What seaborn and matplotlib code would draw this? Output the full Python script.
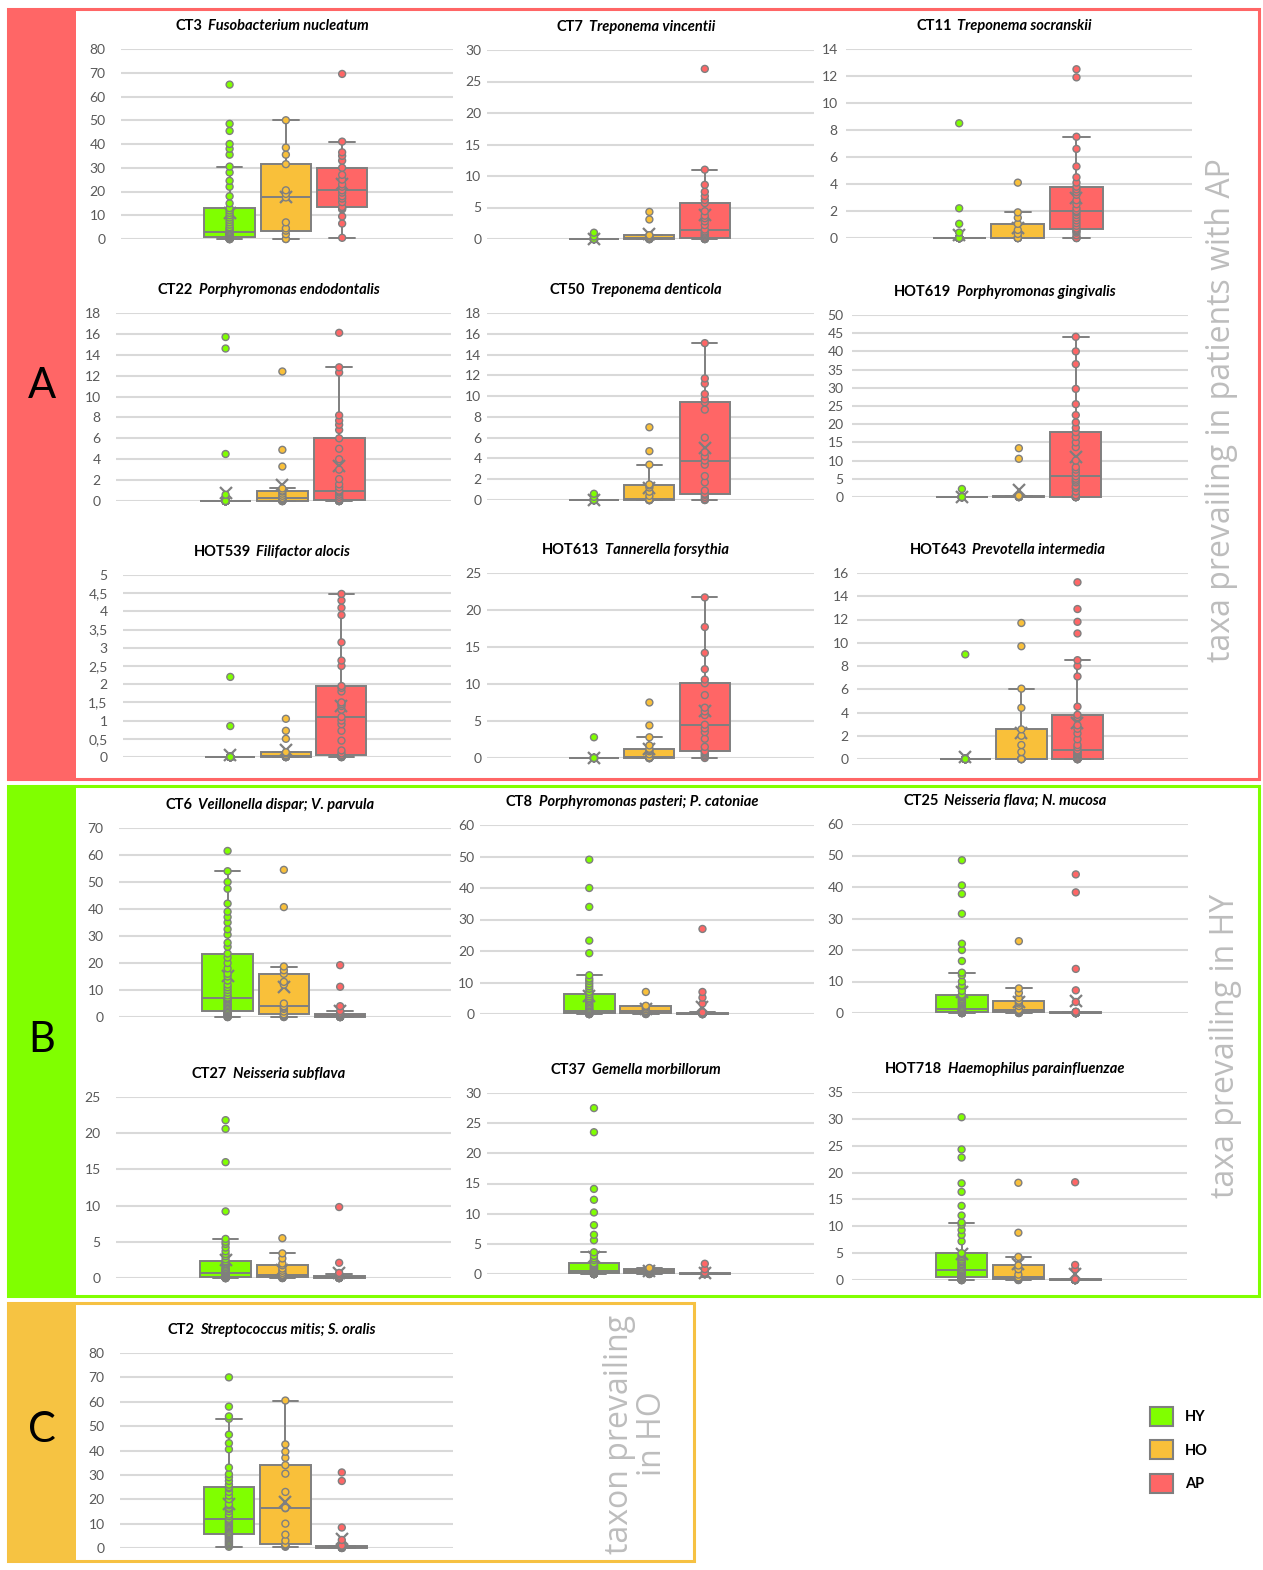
import numpy as np
import pandas as pd
import matplotlib
matplotlib.use('Agg')
import matplotlib.pyplot as plt
import matplotlib.patches as mpatches
from matplotlib.ticker import MultipleLocator, FuncFormatter
from matplotlib.offsetbox import TextArea, HPacker, AnchoredOffsetbox
import seaborn as sns

## groups and colours
groups = ['HY', 'HO', 'AP']
group_colors = ['#80FF00', '#F9C03A', '#FF6666']

## values (HY / HO / AP)
# A: taxa prevailing in patients with AP
ct3_hy = [0, 0, 0, 0, 0, 0, 0.1, 0.2, 0.3, 0.4, 0.5, 0.6, 0.7, 0.8, 1, 1.2, 1.4, 1.6, 1.8, 2, 2.2, 2.4, 2.6, 2.8,
          3, 3.5, 4, 4.5, 5, 6, 7, 8, 9, 10, 11, 12, 13, 15, 18, 22, 24.5, 28, 30.5, 35.5, 38, 40, 45.5, 48.5, 65]
ct3_ho = [0, 0, 2, 3.5, 4.5, 7, 17.5, 19, 20.5, 31.5, 35.5, 38.5, 50]
ct3_ap = [0.5, 6.5, 9.5, 12.5, 13, 13.5, 15.5, 17, 18, 19.5, 20.5, 22, 23, 25, 27, 30, 33, 35, 36.5, 41, 69.5]

ct7_hy = [0, 0, 0, 0, 0, 0, 0, 0, 0, 0, 0, 0, 0, 0, 0, 0, 0, 0, 0, 0, 0, 0, 0, 0,
          0, 0, 0, 0, 0, 0, 0, 0, 0, 0, 0, 0, 0, 0, 0, 0, 0, 0, 0, 0, 0, 0, 0, 0.4, 1.0]
ct7_ho = [0, 0, 0, 0, 0, 0, 0.1, 0.2, 0.4, 0.6, 0.6, 3.1, 4.3]
ct7_ap = [0, 0, 0, 0, 0.1, 0.15, 0.2, 0.4, 0.6, 0.8, 1.0, 1.2, 1.5, 2.2, 2.8, 3.3, 3.7, 4.4, 5.7, 6.2, 6.8, 7.5,
          8.6, 11, 27]

ct11_hy = [0, 0, 0, 0, 0, 0, 0, 0, 0, 0, 0, 0, 0, 0, 0, 0, 0, 0, 0, 0, 0, 0, 0, 0,
           0, 0, 0, 0, 0, 0, 0, 0, 0, 0, 0, 0, 0, 0, 0, 0, 0, 0, 0, 0, 0, 0.4, 1.05, 2.2, 8.5]
ct11_ho = [0, 0, 0, 0, 0, 0, 0, 0.3, 0.6, 1.05, 1.5, 1.9, 4.1]
ct11_ap = [0, 0, 0, 0.2, 0.4, 0.5, 0.6, 0.7, 0.9, 1.1, 1.3, 1.5, 1.7, 1.9, 2.0, 2.2, 2.5, 2.8, 3.2, 3.4, 3.6,
           3.8, 4.1, 4.5, 5.3, 6.6, 7.5, 11.9, 12.5]

ct22_hy = [0, 0, 0, 0, 0, 0, 0, 0, 0, 0, 0, 0, 0, 0, 0, 0, 0, 0, 0, 0, 0, 0, 0, 0,
           0, 0, 0, 0, 0, 0, 0, 0, 0, 0, 0, 0, 0, 0, 0, 0, 0, 0, 0, 0, 0, 0.6, 4.5, 14.6, 15.7]
ct22_ho = [0, 0, 0, 0, 0, 0.1, 0.2, 0.25, 0.3, 0.5, 0.7, 0.9, 1.0, 1.2, 3.3, 4.9, 12.4]
ct22_ap = [0, 0, 0, 0, 0, 0, 0.05, 0.1, 0.15, 0.2, 0.4, 0.6, 0.8, 0.9, 1.0, 1.3, 1.6, 2.1, 3.0, 4.0, 5.0, 6.0,
           6.8, 7.3, 7.7, 8.2, 12.3, 12.8, 16.1]

ct50_hy = [0, 0, 0, 0, 0, 0, 0, 0, 0, 0, 0, 0, 0, 0, 0, 0, 0, 0, 0, 0, 0, 0, 0, 0,
           0, 0, 0, 0, 0, 0, 0, 0, 0, 0, 0, 0, 0, 0, 0, 0, 0, 0, 0, 0, 0, 0, 0, 0.3, 0.6]
ct50_ho = [0, 0, 0, 0, 0, 0, 0, 0, 0.05, 0.4, 0.8, 1.2, 1.4, 1.5, 3.4, 4.7, 7.0]
ct50_ap = [0, 0, 0.1, 0.3, 0.5, 0.6, 0.9, 1.7, 2.3, 3.4, 3.8, 4.2, 4.6, 6.0, 8.7, 9.4, 9.7, 10.2, 11.2, 11.7, 15.1]

hot619_hy = [0, 0, 0, 0, 0, 0, 0, 0, 0, 0, 0, 0, 0, 0, 0, 0, 0, 0, 0, 0, 0, 0, 0, 0,
             0, 0, 0, 0, 0, 0, 0, 0, 0, 0, 0, 0, 0, 0, 0, 0, 0, 0, 0, 0, 0, 0, 0, 0, 2.2]
hot619_ho = [0, 0, 0, 0, 0, 0, 0.1, 0.15, 0.2, 0.3, 0.3, 10.5, 13.4]
hot619_ap = [0, 0, 0, 0, 0, 0, 0, 0, 0, 0.5, 1.5, 2.5, 3.0, 4.0, 4.5, 5.0, 5.7, 6.6, 7.5, 8.2, 10, 13.7, 15,
             16.5, 17.8, 19, 20.5, 22.5, 25.5, 29.7, 36.5, 40, 44]

hot539_hy = [0, 0, 0, 0, 0, 0, 0, 0, 0, 0, 0, 0, 0, 0, 0, 0, 0, 0, 0, 0, 0, 0, 0, 0,
             0, 0, 0, 0, 0, 0, 0, 0, 0, 0, 0, 0, 0, 0, 0, 0, 0, 0, 0, 0, 0, 0, 0, 0.85, 2.2]
hot539_ho = [0, 0, 0, 0, 0, 0, 0.02, 0.05, 0.1, 0.13, 0.5, 0.72, 1.05]
hot539_ap = [0, 0, 0, 0, 0, 0.02, 0.04, 0.05, 0.1, 0.18, 0.45, 0.72, 0.9, 1.0, 1.1, 1.3, 1.4, 1.45, 1.5, 1.8,
             1.9, 1.95, 2.5, 2.65, 3.15, 3.9, 4.1, 4.3, 4.48]

hot613_hy = [0, 0, 0, 0, 0, 0, 0, 0, 0, 0, 0, 0, 0, 0, 0, 0, 0, 0, 0, 0, 0, 0, 0, 0,
             0, 0, 0, 0, 0, 0, 0, 0, 0, 0, 0, 0, 0, 0, 0, 0, 0, 0, 0, 0, 0, 0, 0, 0, 2.8]
hot613_ho = [0, 0, 0, 0, 0, 0, 0, 0.05, 0.1, 0.5, 0.9, 1.1, 1.25, 1.7, 2.8, 4.4, 7.5]
hot613_ap = [0, 0.2, 0.4, 0.6, 0.8, 0.9, 1.5, 2.6, 3.5, 4.0, 4.5, 5.8, 6.3, 6.8, 8.5, 10.1, 10.6, 12, 14.2, 17.7,
             21.7]

hot643_hy = [0, 0, 0, 0, 0, 0, 0, 0, 0, 0, 0, 0, 0, 0, 0, 0, 0, 0, 0, 0, 0, 0, 0, 0,
             0, 0, 0, 0, 0, 0, 0, 0, 0, 0, 0, 0, 0, 0, 0, 0, 0, 0, 0, 0, 0, 0, 0, 0, 9.0]
hot643_ho = [0, 0, 0, 0, 0, 0, 0, 0, 0, 0.6, 1.2, 2.0, 2.55, 4.4, 6.05, 9.7, 11.7]
hot643_ap = [0, 0, 0, 0, 0, 0, 0, 0, 0, 0.1, 0.2, 0.3, 0.4, 0.5, 0.6, 0.7, 0.75, 1.0, 1.2, 1.7, 2.2, 2.6, 2.9,
             3.6, 3.8, 4.5, 7.1, 8.0, 8.5, 10.8, 11.8, 12.9, 15.2]

# B: taxa prevailing in HY
ct6_hy = [0, 0, 0, 0.3, 0.5, 0.8, 1.0, 1.2, 1.5, 1.7, 1.9, 2.0, 2.2, 2.5, 3, 3.5, 4, 4.5, 5, 5.5, 6, 6.5, 6.8,
          7.0, 7.2, 8, 9, 10, 11, 12, 13.5, 15, 16, 18, 20, 22, 23.5, 26, 27.5, 30.5, 32.5, 35, 37, 39, 42, 47.5,
          50, 54, 61.5]
ct6_ho = [0, 0, 0.3, 0.6, 1.0, 2.0, 3.0, 3.5, 4.0, 5.0, 12, 13, 16, 17.3, 18.7, 40.7, 54.5]
ct6_ap = [0, 0, 0, 0, 0, 0, 0.1, 0.2, 0.3, 0.4, 0.5, 0.6, 0.8, 1.0, 1.1, 1.2, 1.6, 2.2, 4.0, 11.2, 19.2]

ct8_hy = [0, 0, 0, 0, 0, 0, 0.05, 0.1, 0.15, 0.2, 0.25, 0.28, 0.3, 0.35, 0.4, 0.45, 0.5, 0.6, 0.65, 0.7, 0.75,
          0.8, 0.9, 0.95, 1.0, 1.3, 1.6, 2.0, 2.4, 2.8, 3.3, 3.8, 4.2, 4.6, 5.0, 5.6, 6.3, 7.0, 8.0, 8.8, 9.6,
          10.5, 11.2, 12.3, 19.3, 23.3, 34, 40, 49]
ct8_ho = [0, 0, 0.1, 0.3, 0.5, 0.8, 1.0, 1.5, 2.0, 2.4, 2.5, 2.6, 7.0]
ct8_ap = [0, 0, 0, 0, 0, 0, 0, 0, 0.05, 0.1, 0.1, 0.15, 0.2, 0.25, 0.28, 0.3, 0.5, 3.3, 5.2, 7.0, 27]

ct25_hy = [0, 0, 0, 0, 0, 0, 0.05, 0.1, 0.15, 0.2, 0.25, 0.28, 0.3, 0.35, 0.4, 0.5, 0.6, 0.7, 0.8, 0.9, 1.0,
           1.1, 1.2, 1.25, 1.3, 1.6, 2.0, 2.4, 2.8, 3.1, 3.4, 3.8, 4.2, 4.5, 5.0, 5.4, 5.8, 7.0, 8.7, 10, 12, 12.8,
           16.5, 20, 22, 31.5, 37.8, 40.5, 48.5]
ct25_ho = [0, 0, 0.1, 0.2, 0.3, 0.5, 0.7, 0.9, 1.0, 2.2, 3.0, 3.5, 3.9, 4.8, 6.4, 7.8, 22.8]
ct25_ap = [0, 0, 0, 0, 0, 0, 0, 0, 0, 0, 0, 0, 0, 0, 0.1, 0.12, 0.15, 0.2, 0.22, 0.25, 0.28, 0.3, 0.35, 0.4,
           3.5, 7.2, 14, 38.3, 44]

ct27_hy = [0, 0, 0, 0, 0, 0, 0, 0.05, 0.1, 0.1, 0.15, 0.18, 0.2, 0.25, 0.3, 0.35, 0.4, 0.45, 0.5, 0.55, 0.6,
           0.62, 0.65, 0.68, 0.7, 0.8, 0.9, 1.0, 1.1, 1.2, 1.3, 1.5, 1.7, 1.9, 2.0, 2.2, 2.3, 2.6, 3.0, 3.3, 3.7,
           4.2, 4.7, 5.0, 5.4, 9.2, 16, 20.6, 21.8]
ct27_ho = [0, 0, 0, 0.05, 0.1, 0.2, 0.3, 0.4, 0.45, 0.7, 1.0, 1.3, 1.75, 2.0, 2.7, 3.4, 5.5]
ct27_ap = [0, 0, 0, 0, 0, 0, 0, 0.05, 0.08, 0.1, 0.1, 0.12, 0.15, 0.2, 0.22, 0.25, 0.3, 0.5, 0.7, 2.1, 9.8]

ct37_hy = [0, 0, 0, 0, 0, 0, 0, 0, 0, 0.03, 0.05, 0.08, 0.1, 0.12, 0.15, 0.18, 0.2, 0.25, 0.3, 0.35, 0.38, 0.4,
           0.45, 0.48, 0.5, 0.6, 0.7, 0.8, 0.9, 1.0, 1.1, 1.2, 1.3, 1.4, 1.5, 1.6, 1.8, 2.3, 2.6, 3.0, 3.6, 5.6,
           6.5, 8.1, 10.2, 12.3, 14.1, 23.5, 27.5]
ct37_ho = [0, 0, 0.05, 0.1, 0.2, 0.35, 0.5, 0.55, 0.6, 0.8, 0.85, 0.9, 1.0]
ct37_ap = [0, 0, 0, 0, 0, 0, 0, 0, 0, 0, 0.02, 0.05, 0.08, 0.1, 0.12, 0.15, 0.18, 0.2, 0.22, 0.8, 1.7]

hot718_hy = [0, 0, 0, 0, 0, 0, 0.1, 0.15, 0.2, 0.3, 0.4, 0.45, 0.5, 0.6, 0.7, 0.8, 0.9, 1.0, 1.1, 1.3, 1.4, 1.5,
             1.6, 1.7, 1.8, 2.0, 2.3, 2.5, 2.8, 3.0, 3.3, 3.5, 3.8, 4.2, 4.5, 4.8, 5.0, 7.2, 8.4, 9.3, 10.3, 10.7,
             12, 13.8, 16.4, 18, 22.8, 24.3, 30.3]
hot718_ho = [0, 0, 0.1, 0.2, 0.3, 0.4, 0.5, 1.0, 2.0, 2.7, 4.3, 8.8, 18.1]
hot718_ap = [0, 0, 0, 0, 0, 0, 0, 0, 0, 0, 0, 0, 0, 0, 0, 0.1, 0.1, 0.15, 2.0, 2.8, 18.2]

# C: taxon prevailing in HO
ct2_hy = [0.5, 1, 1.5, 2, 2.5, 3, 3.5, 4, 4.5, 5, 5.3, 5.6, 5.8, 6.2, 6.8, 7.5, 8, 8.5, 9, 9.5, 10, 10.5, 11,
          11.5, 12, 13, 13.7, 15, 16, 16.5, 17.5, 18, 20, 21.5, 23, 24.5, 25, 26, 27.5, 29, 30.3, 33, 40.5, 43,
          46.5, 53, 54, 58, 70]
ct2_ho = [0.5, 0.8, 1.0, 1.2, 1.5, 3, 5.5, 10, 16.3, 16.5, 23, 30.5, 34, 37, 39.5, 42.5, 60.5]
ct2_ap = [0, 0, 0.05, 0.1, 0.15, 0.2, 0.25, 0.3, 0.35, 0.4, 0.45, 0.5, 0.55, 0.6, 0.7, 0.8, 1.0, 3.3, 8.4,
          27.5, 31]

# panel table: code, species, data, y max, tick step, axes box in pixels (left, right, top, bottom)
panels = [
    ('CT3', 'Fusobacterium nucleatum', ct3_hy, ct3_ho, ct3_ap, 80, 10, (121, 453, 49, 239)),
    ('CT7', 'Treponema vincentii', ct7_hy, ct7_ho, ct7_ap, 30, 5, (487, 814, 50, 239)),
    ('CT11', 'Treponema socranskii', ct11_hy, ct11_ho, ct11_ap, 14, 2, (846, 1192, 49, 238)),
    ('CT22', 'Porphyromonas endodontalis', ct22_hy, ct22_ho, ct22_ap, 18, 2, (116, 451, 313, 501)),
    ('CT50', 'Treponema denticola', ct50_hy, ct50_ho, ct50_ap, 18, 2, (487, 814, 313, 500)),
    ('HOT619', 'Porphyromonas gingivalis', hot619_hy, hot619_ho, hot619_ap, 50, 5, (852, 1188, 315, 497)),
    ('HOT539', 'Filifactor alocis', hot539_hy, hot539_ho, hot539_ap, 5, 0.5, (123, 451, 575, 757)),
    ('HOT613', 'Tannerella forsythia', hot613_hy, hot613_ho, hot613_ap, 25, 5, (487, 814, 573, 758)),
    ('HOT643', 'Prevotella intermedia', hot643_hy, hot643_ho, hot643_ap, 16, 2, (857, 1188, 573, 759)),
    ('CT6', 'Veillonella dispar; V. parvula', ct6_hy, ct6_ho, ct6_ap, 70, 10, (119, 451, 828, 1017)),
    ('CT8', 'Porphyromonas pasteri; P. catoniae', ct8_hy, ct8_ho, ct8_ap, 60, 10, (480, 814, 825, 1014)),
    ('CT25', 'Neisseria flava; N. mucosa', ct25_hy, ct25_ho, ct25_ap, 60, 10, (852, 1188, 824, 1013)),
    ('CT27', 'Neisseria subflava', ct27_hy, ct27_ho, ct27_ap, 25, 5, (116, 451, 1097, 1278)),
    ('CT37', 'Gemella morbillorum', ct37_hy, ct37_ho, ct37_ap, 30, 5, (487, 814, 1093, 1274)),
    ('HOT718', 'Haemophilus parainfluenzae', hot718_hy, hot718_ho, hot718_ap, 35, 5, (852, 1187, 1092, 1280)),
    ('CT2', 'Streptococcus mitis; S. oralis', ct2_hy, ct2_ho, ct2_ap, 80, 10, (120, 453, 1353, 1548)),
]

sns.set_theme(style='white')
plt.rcParams['font.family'] = ['Lato', 'DejaVu Sans']

W, H = 1263, 1570
fig = plt.figure(figsize=(W / 100, H / 100), dpi=100)
grey = '#7F7F7F'


def fx(px):
    return px / W


def fy(py):
    return 1 - py / H


def add_rect(x0, y0, x1, y1, **kw):
    r = mpatches.Rectangle((fx(x0), fy(y1)), (x1 - x0) / W, (y1 - y0) / H,
                           transform=fig.transFigure, **kw)
    fig.add_artist(r)


# section frames
add_rect(8, 9, 1259, 779, facecolor='none', edgecolor='#FF6666', linewidth=2.2)
add_rect(8, 9, 76, 779, facecolor='#FF6666', edgecolor='none')
add_rect(8, 786, 1259, 1296, facecolor='none', edgecolor='#80FF00', linewidth=2.2)
add_rect(8, 786, 76, 1296, facecolor='#80FF00', edgecolor='none')
add_rect(8, 1303, 694, 1561, facecolor='none', edgecolor='#F6C142', linewidth=2.2)
add_rect(8, 1303, 76, 1561, facecolor='#F6C342', edgecolor='none')

for letter, ypos in [('A', 386), ('B', 1040), ('C', 1430)]:
    fig.text(fx(42), fy(ypos), letter, fontsize=30, ha='center', va='center', color='black')

side_kw = dict(rotation=90, ha='center', va='center', color='#BDBDBD', fontsize=23, fontweight='normal',
               family=['Open Sans', 'DejaVu Sans'])
fig.text(fx(1221), fy(410), 'taxa prevailing in patients with AP', **side_kw)
fig.text(fx(1225), fy(1046), 'taxa prevailing in HY', **side_kw)
fig.text(fx(636), fy(1434), 'taxon prevailing\nin HO', linespacing=1.0, **side_kw)

comma_fmt = FuncFormatter(lambda v, p: ('%g' % v).replace('.', ','))

for code, species, hy, ho, ap, ymax, step, (l, r, t, b) in panels:
    df = pd.DataFrame({'group': ['HY'] * len(hy) + ['HO'] * len(ho) + ['AP'] * len(ap),
                       'value': hy + ho + ap})
    ax = fig.add_axes([fx(l), fy(b), (r - l) / W, (b - t) / H])
    sns.boxplot(data=df, x='group', y='value', hue='group', order=groups, hue_order=groups,
                palette=group_colors, saturation=1, width=0.9, linecolor=grey, linewidth=1.4,
                showfliers=False, showmeans=True,
                meanprops=dict(marker='x', markeredgecolor=grey, markersize=8, markeredgewidth=1.6),
                legend=False, ax=ax)
    sns.stripplot(data=df, x='group', y='value', hue='group', order=groups, hue_order=groups,
                  palette=group_colors, jitter=False, size=5, edgecolor=grey, linewidth=1,
                  legend=False, ax=ax)
    for art in ax.collections + ax.lines + ax.patches:
        art.set_clip_on(False)

    ax.set_xlim(-1.93, 3.97)
    ax.set_ylim(0, ymax)
    ax.yaxis.set_major_locator(MultipleLocator(step))
    ax.yaxis.set_major_formatter(comma_fmt)
    ax.set_xticks([])
    ax.set_xlabel('')
    ax.set_ylabel('')
    ax.yaxis.grid(True, color='#D9D9D9', linewidth=1.5)
    ax.set_axisbelow(True)
    for s in ax.spines.values():
        s.set_visible(False)
    pad = 11 if l < 200 else (4 if l < 600 else 6)
    ax.tick_params(axis='y', length=0, pad=pad, labelsize=10, labelcolor='#595959')

    # title: code in bold, species in bold italic
    parts = [TextArea(code, textprops=dict(weight='bold', size=10.5, color='black')),
             TextArea(species, textprops=dict(weight='bold', style='italic', size=10.5, color='black'))]
    box = HPacker(children=parts, align='baseline', pad=0, sep=4)
    anch = AnchoredOffsetbox(loc='center', child=box, pad=0, borderpad=0, frameon=False,
                             bbox_to_anchor=(fx((l + r) / 2 - 15), fy(t - 23)),
                             bbox_transform=fig.transFigure)
    fig.add_artist(anch)

handles = [mpatches.Patch(facecolor=c, edgecolor=grey, linewidth=1.5, label=g)
           for g, c in zip(groups, group_colors)]
leg = fig.legend(handles=handles, loc='upper left', bbox_to_anchor=(fx(1137), fy(1394)), frameon=False,
                 handlelength=1.6, handleheight=1.6, labelspacing=1.0, handletextpad=0.8,
                 prop=dict(weight='bold', size=10.5))
for txt in leg.get_texts():
    txt.set_color('black')

fig.savefig('out.png', dpi=100)
